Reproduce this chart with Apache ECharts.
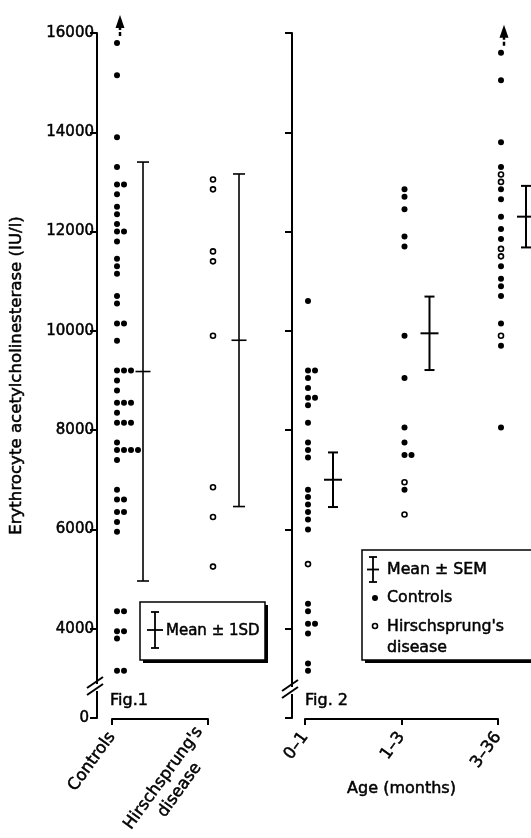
<!DOCTYPE html>
<html>
<head>
<meta charset="utf-8">
<script src="https://cdn.jsdelivr.net/npm/echarts@6.0.0/dist/echarts.min.js"></script>
<style>
  html, body { margin: 0; padding: 0; background: #fff; }
  #chart { width: 531px; height: 838px; }
</style>
</head>
<body>
<div id="chart"></div>
<script>
  // ---- data ----
  // Fig.1
  const fig1Groups = ['Controls', "Hirschsprung's\ndisease"];
  const fig1Controls = [15800, 15150, 13900, 13300, 12950, 12950, 12750, 12500, 12350, 12150,
    12000, 12000, 11800, 11450, 11300, 11150, 10700, 10550, 10150, 10150, 9800, 9200, 9200, 9200,
    9000, 8800, 8550, 8550, 8550, 8350, 8150, 8150, 8150, 7750, 7600, 7600, 7600, 7600, 7400,
    6800, 6600, 6600, 6350, 6350, 6150, 5950, 4350, 4350, 3950, 3950, 3800, 3150, 3150];
  const fig1Hirsch = [13050, 12850, 11600, 11400, 9900, 6850, 6250, 5250];
  const fig1Mean = [9180, 9810];
  const fig1SD = [4220, 3350];
  const fig1OffScale = ['Controls'];

  // Fig.2
  const fig2Groups = ['0–1', '1–3', '3–36'];
  const fig2Controls = [
    [10600, 9200, 9200, 9050, 8850, 8650, 8650, 8500, 8150, 7750, 7600, 7450, 6800, 6650, 6500,
      6350, 6200, 6000, 4500, 4350, 4100, 4100, 3900, 3300, 3150],
    [12850, 12700, 12450, 11900, 11700, 9900, 9050, 8050, 7750, 7500, 7500, 6800],
    [15600, 15050, 13800, 13300, 12850, 12650, 12300, 12050, 11850, 11300, 11050, 10900, 10700,
      10150, 9700, 8050]
  ];
  const fig2Hirsch = [[5300], [6950, 6300], [13150, 13000, 11650, 11500, 9900]];
  const fig2Mean = [7000, 9950, 12300];
  const fig2SEM = [550, 740, 620];
  const fig2OffScale = ['3–36'];

  // axis
  const yFloor = 2200;   // drawn as "0" below the axis break
  const yTop = 16000;
  const yTicks = [yFloor, 4000, 6000, 8000, 10000, 12000, 14000, 16000];

  // ---- helpers ----
  const FONT = 'DejaVu Sans';
  const BLACK = '#000';
  // regular face, thickened a little to look like the heavier print type
  function txt(size) {
    return { fontFamily: FONT, fontSize: size, color: BLACK, textBorderColor: BLACK, textBorderWidth: 0.5 };
  }

  // side-by-side column index for repeated values in a group
  function stackCols(values) {
    const seen = {};
    return values.map(v => {
      const k = seen[v] || 0;
      seen[v] = k + 1;
      return k;
    });
  }
  function dotData(groupIndex, values) {
    const cols = stackCols(values);
    return values.map((v, i) => [groupIndex, v, cols[i]]);
  }

  function dotRender(shift, open) {
    return function (params, api) {
      const p = api.coord([api.value(0), api.value(1)]);
      const x = p[0] + shift + api.value(2) * 7;
      return {
        type: 'circle',
        shape: { cx: x, cy: p[1], r: open ? 2.5 : 3 },
        style: open ? { fill: '#fff', stroke: BLACK, lineWidth: 1.6 } : { fill: BLACK }
      };
    };
  }

  function barRender(shift, cap, cross, lw) {
    return function (params, api) {
      const c = api.value(0), m = api.value(1), e = api.value(2);
      const top = api.coord([c, m + e])[1];
      const bot = api.coord([c, m - e])[1];
      const mid = api.coord([c, m]);
      const x = mid[0] + shift;
      const st = { stroke: BLACK, lineWidth: lw };
      return {
        type: 'group',
        children: [
          { type: 'line', shape: { x1: x, y1: top, x2: x, y2: bot }, style: st },
          { type: 'line', shape: { x1: x - cap, y1: top, x2: x + cap, y2: top }, style: st },
          { type: 'line', shape: { x1: x - cap, y1: bot, x2: x + cap, y2: bot }, style: st },
          { type: 'line', shape: { x1: x - cross, y1: mid[1], x2: x + cross, y2: mid[1] }, style: st }
        ]
      };
    };
  }

  function arrowRender(shift) {
    return function (params, api) {
      const p = api.coord([api.value(0), api.value(1)]);
      const x = p[0] + shift, y = p[1] - 7;
      return {
        type: 'group',
        children: [
          { type: 'line', shape: { x1: x, y1: y, x2: x, y2: y - 9 },
            style: { stroke: BLACK, lineWidth: 2.5, lineDash: [4, 2] } },
          { type: 'polygon', shape: { points: [[x, y - 21], [x - 4.5, y - 8], [x + 4.5, y - 8]] },
            style: { fill: BLACK } }
        ]
      };
    };
  }

  const fig1DotsC = dotData(0, fig1Controls);
  const fig1DotsH = dotData(1, fig1Hirsch);
  let fig2DotsC = [], fig2DotsH = [];
  fig2Groups.forEach((g, i) => {
    fig2DotsC = fig2DotsC.concat(dotData(i, fig2Controls[i]));
    fig2DotsH = fig2DotsH.concat(dotData(i, fig2Hirsch[i]));
  });
  const fig1Arrows = fig1OffScale.map(g => {
    const i = fig1Groups.indexOf(g);
    return [i, Math.max.apply(null, i === 0 ? fig1Controls : fig1Hirsch)];
  });
  const fig2Arrows = fig2OffScale.map(g => {
    const i = fig2Groups.indexOf(g);
    return [i, Math.max.apply(null, fig2Controls[i].concat(fig2Hirsch[i]))];
  });

  // ---- axes ----
  function yAxisOf(gridIndex, offset, showLabels, name) {
    return {
      type: 'value', gridIndex: gridIndex, min: yFloor, max: yTop, offset: offset,
      name: name || '', nameLocation: 'middle', nameGap: 72,
      nameTextStyle: txt(16.6),
      axisLine: { show: true, lineStyle: { color: BLACK, width: 2 } },
      axisTick: { show: true, customValues: yTicks, length: 7, lineStyle: { color: BLACK, width: 2 } },
      axisLabel: Object.assign(txt(15), {
        show: showLabels, customValues: yTicks, margin: 3,
        formatter: v => (v === yFloor ? '{z|0}' : String(v)),
        rich: { z: Object.assign(txt(15), { padding: [0, 5, 0, 0] }) }
      }),
      splitLine: { show: false }
    };
  }
  function xAxisOf(gridIndex, cats, name) {
    return {
      type: 'category', gridIndex: gridIndex, data: cats, boundaryGap: false, offset: 1,
      name: name || '', nameLocation: 'middle', nameGap: 62,
      nameTextStyle: txt(16),
      axisLine: { show: true, lineStyle: { color: BLACK, width: 2 } },
      axisTick: { show: true, length: 6, lineStyle: { color: BLACK, width: 2 } },
      axisLabel: Object.assign(txt(16.5), {
        rotate: 54, margin: 15, interval: 0, lineHeight: 20,
        // two-line names are centred line by line, as in the print
        formatter: v => (v.indexOf('\n') < 0 ? v : v.split('\n').map(l => '{c|' + l + '}').join('\n')),
        rich: { c: Object.assign(txt(16.5), { width: 124, align: 'center', lineHeight: 20 }) }
      }),
      splitLine: { show: false }
    };
  }

  // ---- decorations: axis breaks, figure captions, keys ----
  function axisBreak(ax, by) {
    return [
      { type: 'rect', shape: { x: ax - 3, y: by - 6, width: 6, height: 7 }, style: { fill: '#fff' }, z: 100 },
      { type: 'line', shape: { x1: ax - 10, y1: by + 5, x2: ax + 6, y2: by - 6 },
        style: { stroke: BLACK, lineWidth: 2 }, z: 101 },
      { type: 'line', shape: { x1: ax - 10, y1: by - 2, x2: ax + 6, y2: by - 13 },
        style: { stroke: BLACK, lineWidth: 2 }, z: 101 }
    ];
  }
  function keyBox(x, y, w, h) {
    return [
      { type: 'rect', shape: { x: x + 3, y: y + 3, width: w, height: h }, style: { fill: BLACK }, z: 100 },
      { type: 'rect', shape: { x: x, y: y, width: w, height: h },
        style: { fill: '#fff', stroke: BLACK, lineWidth: 1.5 }, z: 101 }
    ];
  }
  function keyBar(x, y1, y2, cross) {
    const ym = (y1 + y2) / 2, st = { stroke: BLACK, lineWidth: 1.8 };
    return [
      { type: 'line', shape: { x1: x, y1: y1, x2: x, y2: y2 }, style: st, z: 102 },
      { type: 'line', shape: { x1: x - 4, y1: y1, x2: x + 4, y2: y1 }, style: st, z: 102 },
      { type: 'line', shape: { x1: x - 4, y1: y2, x2: x + 4, y2: y2 }, style: st, z: 102 },
      { type: 'line', shape: { x1: x - cross, y1: ym, x2: x + cross, y2: ym }, style: st, z: 102 }
    ];
  }
  function textEl(x, y, text, size) {
    return { type: 'text', x: x, y: y, z: 102,
      style: { text: text, fontFamily: FONT, fontSize: size, fill: BLACK, stroke: BLACK, lineWidth: 0.5,
        verticalAlign: 'middle', lineHeight: 21 } };
  }

  const graphics = []
    .concat(axisBreak(97, 690))
    .concat(axisBreak(292, 693))
    .concat([textEl(110, 701, 'Fig.1', 16), textEl(305, 701, 'Fig. 2', 16)])
    .concat(keyBox(140, 602, 125, 58))
    .concat(keyBar(155, 612, 648, 8))
    .concat([textEl(166, 631, 'Mean ± 1SD', 15)])
    .concat(keyBox(362, 550, 180, 110))
    .concat(keyBar(373, 557, 582, 6))
    .concat([
      textEl(387, 570, 'Mean ± SEM', 15.8),
      { type: 'circle', shape: { cx: 375, cy: 598, r: 3 }, style: { fill: BLACK }, z: 102 },
      textEl(387, 598, 'Controls', 15.8),
      { type: 'circle', shape: { cx: 375, cy: 626, r: 2.5 }, style: { fill: '#fff', stroke: BLACK, lineWidth: 1.6 }, z: 102 },
      textEl(387, 637, "Hirschsprung's\ndisease", 15.8)
    ]);

  const chart = echarts.init(document.getElementById('chart'), null, { renderer: 'canvas' });
  chart.setOption({
    backgroundColor: '#fff',
    animation: false,
    grid: [
      { left: 112, right: 531 - 208, top: 33, bottom: 838 - 718, outerBoundsMode: 'none' },
      { left: 305, right: 531 - 498, top: 33, bottom: 838 - 718, outerBoundsMode: 'none' }
    ],
    xAxis: [xAxisOf(0, fig1Groups), xAxisOf(1, fig2Groups, 'Age (months)')],
    yAxis: [
      yAxisOf(0, 15, true, 'Erythrocyte acetylcholinesterase (IU/l)'),
      yAxisOf(1, 13, false)
    ],
    graphic: graphics,
    series: [
      { type: 'custom', xAxisIndex: 0, yAxisIndex: 0, data: fig1DotsC, renderItem: dotRender(5, false) },
      { type: 'custom', xAxisIndex: 0, yAxisIndex: 0, data: fig1DotsH, renderItem: dotRender(5, true) },
      { type: 'custom', xAxisIndex: 0, yAxisIndex: 0, data: fig1Mean.map((m, i) => [i, m, fig1SD[i]]),
        renderItem: barRender(31, 6, 7.5, 1.6) },
      { type: 'custom', xAxisIndex: 0, yAxisIndex: 0, data: fig1Arrows, renderItem: arrowRender(8) },
      { type: 'custom', xAxisIndex: 1, yAxisIndex: 1, data: fig2DotsC, renderItem: dotRender(3, false) },
      { type: 'custom', xAxisIndex: 1, yAxisIndex: 1, data: fig2DotsH, renderItem: dotRender(3, true) },
      { type: 'custom', xAxisIndex: 1, yAxisIndex: 1, data: fig2Mean.map((m, i) => [i, m, fig2SEM[i]]),
        renderItem: barRender(28, 5, 9, 2) },
      { type: 'custom', xAxisIndex: 1, yAxisIndex: 1, data: fig2Arrows, renderItem: arrowRender(6) }
    ]
  });
</script>
</body>
</html>
